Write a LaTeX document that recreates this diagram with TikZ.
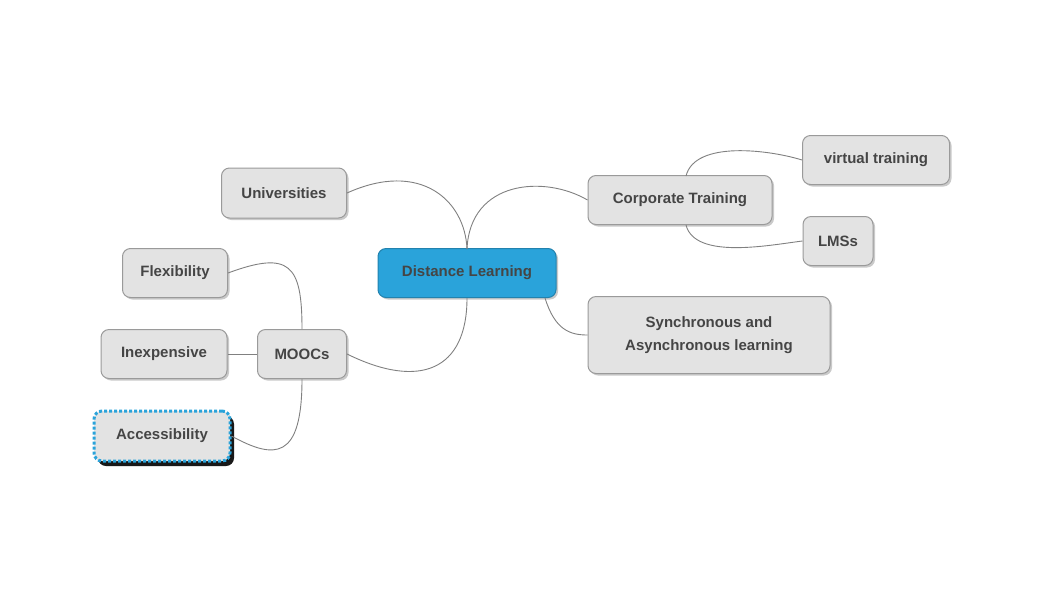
\documentclass[tikz,border=0pt]{standalone}
\usepackage{fontspec}
\setmainfont{Liberation Sans}
\usetikzlibrary{shadows}
\definecolor{boxfill}{HTML}{E3E3E3}
\definecolor{boxline}{HTML}{9A9A9A}
\definecolor{txt}{HTML}{454545}
\definecolor{blue1}{HTML}{2AA3DA}
\begin{document}
\begin{tikzpicture}[x=1pt,y=-1pt,
  box/.style={draw=boxline,fill=boxfill,rounded corners=8pt,line width=1pt,
    font=\bfseries\fontsize{15}{19}\selectfont,text=txt,align=center,inner sep=0pt,
    drop shadow={shadow xshift=2pt,shadow yshift=-2pt,fill=black!35,opacity=0.6}},
  conn/.style={draw=black!50,line width=0.9pt}]
\useasboundingbox (0,0) rectangle (1046,595);
\node[box,minimum width=178pt,minimum height=49pt,fill=blue1,draw=blue1!80!black] (dl) at (467,273) {Distance Learning};
\node[box,minimum width=125pt,minimum height=50pt] (uni) at (284,193) {Universities};
\node[box,minimum width=184pt,minimum height=49pt] (ct) at (680,200) {Corporate Training};
\node[box,minimum width=147pt,minimum height=49pt] (vt) at (876,160) {virtual training};
\node[box,minimum width=70pt,minimum height=49pt] (lms) at (838,241) {LMSs};
\node[box,minimum width=242pt,minimum height=77pt] (sync) at (709,335) {Synchronous and\\[4pt]Asynchronous learning};
\node[box,minimum width=105pt,minimum height=49pt] (flex) at (175,273) {Flexibility};
\node[box,minimum width=89pt,minimum height=49pt] (mooc) at (302,354) {MOOCs};
\node[box,minimum width=126pt,minimum height=49pt] (inex) at (164,354) {Inexpensive};
\node[box,minimum width=136pt,minimum height=50pt,draw=blue1,dash pattern=on 3pt off 2pt,line width=3pt,
  drop shadow={shadow xshift=4pt,shadow yshift=-5pt,fill=black,opacity=0.9}] (acc) at (162,436) {Accessibility};
\coordinate (dltop) at (467,249);
\coordinate (dlbot) at (467,298);
\draw[conn] (uni.east) .. controls (420,160) and (465,200) .. (dltop);
\draw[conn] (dltop) .. controls (470,180) and (545,175) .. (ct.west);
\draw[conn] (545,298) .. controls (555,330) and (570,335) .. (sync.west);
\draw[conn] (mooc.east) .. controls (420,390) and (467,370) .. (dlbot);
\draw[conn] (686,176) .. controls (695,140) and (770,150) .. (vt.west);
\draw[conn] (686,225) .. controls (695,260) and (770,245) .. (lms.west);
\draw[conn] (mooc.north) .. controls (302,265) and (290,250) .. (flex.east);
\draw[conn] (inex.east) -- (mooc.west);
\draw[conn] (mooc.south) .. controls (302,460) and (275,460) .. (acc.east);
\end{tikzpicture}
\end{document}
